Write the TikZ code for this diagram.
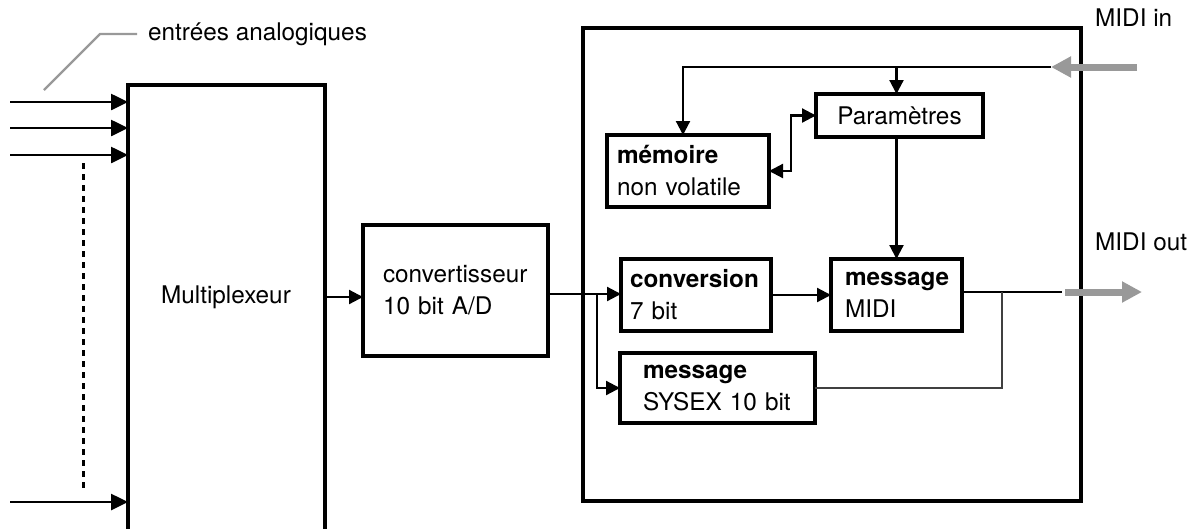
\documentclass[tikz,border=0pt]{standalone}
\usepackage{fontspec}
\setmainfont{TeX Gyre Heros}
\usetikzlibrary{arrows.meta}
\definecolor{midgray}{RGB}{153,153,153}
\begin{document}
\begin{tikzpicture}[x=1pt,y=-1pt,
  every node/.style={font=\fontsize{24.3}{32}\selectfont},
  box/.style={draw, line width=3.2pt, inner ysep=0pt, align=left, outer sep=0pt},
  conn/.style={line width=2.2pt},
  arr/.style={conn, -{Triangle[length=14pt,width=14pt]}},
  bigarr/.style={line width=2.6pt, -{Triangle[length=17pt,width=16pt]}},
  darr/.style={conn, {Triangle[length=14pt,width=14pt]}-{Triangle[length=14pt,width=14pt]}},
  grayarr/.style={line width=7pt, draw=midgray, fill=midgray, -{Triangle[length=20pt,width=20pt]}},
  leader/.style={line width=2.2pt, draw=midgray}
]
\useasboundingbox (0,0) rectangle (1199,528);

% big box
\node[box, minimum width=498pt, minimum height=473pt] (big) at (832,264.5) {};

% multiplexer
\node[box, anchor=north west, minimum width=197pt, minimum height=500pt] (mux) at (128,85) {};
\node (muxlbl) at (226,297) {Multiplexeur};

% converter
\node[box, minimum width=185pt, minimum height=131pt, inner xsep=20pt, text width=145pt] (conv) at (455.5,290.5) {convertisseur\\10 bit A/D};

% inner boxes
\node[box, minimum width=167pt, minimum height=43pt, align=center] (param) at (899.5,115.5) {Paramètres};
\node[box, minimum width=162pt, minimum height=72pt, inner xsep=10pt, text width=142pt] (mem) at (688,171) {\textbf{mémoire}\\non volatile};
\node[box, minimum width=150pt, minimum height=72pt, inner xsep=9pt, text width=132pt] (cvs) at (696,295) {\textbf{conversion}\\7 bit};
\node[box, minimum width=131pt, minimum height=72pt, inner xsep=14pt, text width=103pt] (midi) at (896.5,295) {\textbf{message}\\MIDI};
\node[box, minimum width=195pt, minimum height=70pt, inner xsep=23pt, text width=149pt] (sysex) at (717.5,388) {\textbf{message}\\SYSEX 10 bit};

% labels
\node[anchor=west, inner sep=0pt] (lbl) at (148,34) {entrées analogiques};
\node[anchor=west, inner sep=0pt] (midiin) at (1095,18) {MIDI in};
\node[anchor=west, inner sep=0pt] (midiout) at (1095,242) {MIDI out};

% coordinates
\coordinate (i1) at (10,102);
\coordinate (i2) at (10,128);
\coordinate (i3) at (10,155);
\coordinate (i4) at (10,502);
\coordinate (d1) at (83,163);
\coordinate (d2) at (83,488);
\coordinate (l1) at (44,90);
\coordinate (l2) at (100,34);
\coordinate (br) at (597,294);
\coordinate (tl) at (683,67);
\coordinate (mi) at (1051,67);
\coordinate (mit) at (1137,67);
\coordinate (mx) at (791,0);
\coordinate (jn) at (1002,292);
\coordinate (mo) at (1062,292);
\coordinate (mos) at (1065,292);
\coordinate (moe) at (1142,292);

% analog inputs
\draw[bigarr] (i1) -- (i1 -| mux.west);
\draw[bigarr] (i2) -- (i2 -| mux.west);
\draw[bigarr] (i3) -- (i3 -| mux.west);
\draw[bigarr] (i4) -- (i4 -| mux.west);
\draw[line width=3pt, dash pattern=on 6pt off 5pt] (d1) -- (d2);
\draw[leader] (l1) -- (l2) -- ([xshift=-11pt]lbl.west);

% main flow
\draw[arr] (mux.east |- muxlbl) -- (conv.west |- muxlbl);
\draw[arr] (conv.east |- br) -- (cvs.west |- br);
\draw[arr] (br) |- (sysex.west);
\draw[arr] (cvs) -- (midi);
\draw[arr] (param.south -| midi.north) -- (midi.north);

% MIDI in
\draw[grayarr] (mit) -- (mi);
\draw[arr] (mi) -- (tl) -- (tl |- mem.north);
\draw[arr] (midi.north |- mi) -- (midi.north |- param.north);
\draw[darr] (mem.east) -- (mem.east -| mx) |- (param.west);

% MIDI out
\draw[conn] (midi.east |- mo) -- (mo);
\draw[line width=1.8pt, draw=black!75] (sysex.east) -| (jn);
\draw[grayarr] (mos) -- (moe);
\end{tikzpicture}
\end{document}
